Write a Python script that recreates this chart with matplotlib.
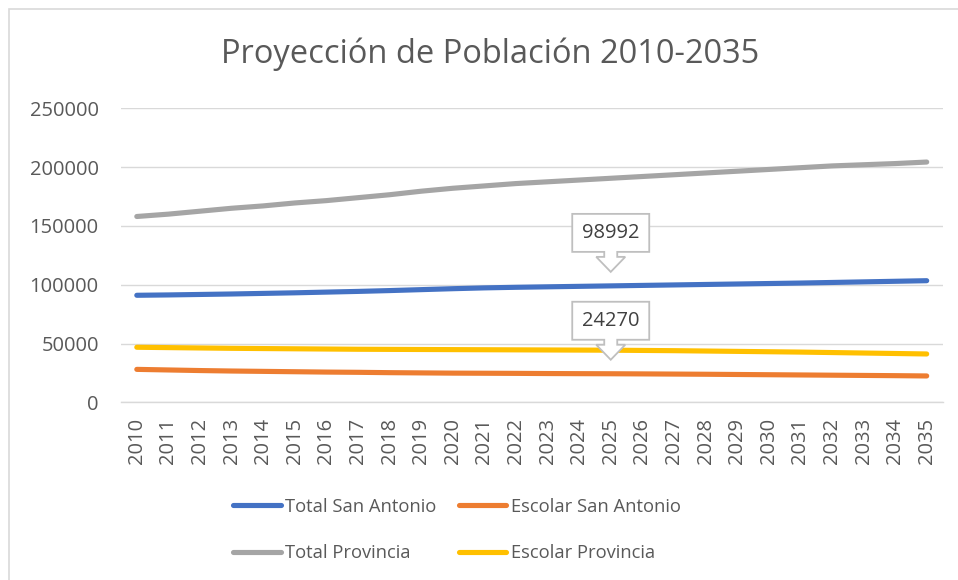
import numpy as np
import matplotlib.pyplot as plt
from matplotlib import transforms
from matplotlib.patches import Polygon, Rectangle

plt.rcParams['font.family'] = ['Open Sans', 'DejaVu Sans']

# Datos
anios = [str(a) for a in range(2010, 2036)]

total_san_antonio = [91000, 91300, 91700, 92100, 92600, 93100, 93700, 94300, 95000, 95800,
                     96600, 97300, 97800, 98200, 98600, 98992, 99400, 99800, 100200, 100600,
                     101000, 101400, 101900, 102400, 102900, 103400]
escolar_san_antonio = [28000, 27500, 27000, 26600, 26300, 26000, 25700, 25500, 25200, 25000,
                       24800, 24700, 24600, 24450, 24350, 24270, 24150, 24000, 23850, 23650,
                       23450, 23250, 23050, 22850, 22650, 22400]
total_provincia = [158000, 160000, 162500, 165000, 167000, 169500, 171500, 174000, 176500, 179500,
                   182000, 184000, 186000, 187500, 189000, 190500, 192000, 193500, 195000, 196500,
                   198000, 199500, 201000, 202000, 203000, 204300]
escolar_provincia = [46800, 46500, 46200, 45900, 45700, 45500, 45300, 45100, 45000, 44900,
                     44800, 44700, 44600, 44500, 44400, 44300, 44100, 43900, 43600, 43300,
                     43000, 42700, 42300, 41900, 41500, 41100]

series = [
    ("Total San Antonio", total_san_antonio, "#4472C4"),
    ("Total Provincia", total_provincia, "#A5A5A5"),
    ("Escolar San Antonio", escolar_san_antonio, "#ED7D31"),
    ("Escolar Provincia", escolar_provincia, "#FFC000"),
]
etiquetas = [("Total San Antonio", 15), ("Escolar San Antonio", 15)]

W, H = 958, 580
fig = plt.figure(figsize=(W / 100, H / 100), dpi=100)
ax = fig.add_axes([121 / W, 1 - 402.3 / H, 821.5 / W, 294 / H])

x = np.arange(len(anios))
lineas = {}
for nombre, vals, color in series:
    ax.plot(x, vals, color=color, lw=3.7, solid_capstyle='round',
            solid_joinstyle='round', label=nombre, zorder=3)
    lineas[nombre] = vals

ax.set_xlim(-0.5, len(anios) - 0.5)
ax.set_ylim(0, 250000)
ax.set_yticks(range(0, 250001, 50000))
ax.set_xticks(x)
ax.set_xticklabels(anios, rotation=90)
ax.grid(axis='y', color='#D9D9D9', lw=1.0, zorder=0)
ax.set_axisbelow(True)
for s in ['top', 'right', 'left']:
    ax.spines[s].set_visible(False)
ax.spines['bottom'].set_color('#D9D9D9')
ax.spines['bottom'].set_linewidth(1.0)
ax.tick_params(axis='both', length=0, labelsize=14.5, colors='#595959')
ax.tick_params(axis='y', pad=16)
ax.tick_params(axis='x', pad=11)

# Etiquetas tipo globo
forma = [(-38.5, 34), (-38.5, 72), (38.5, 72), (38.5, 34), (6.5, 34), (6.5, 29),
         (14.5, 29), (0, 14), (-14.5, 29), (-6.5, 29), (-6.5, 34)]
for nombre, i in etiquetas:
    val = lineas[nombre][i]
    tr = fig.dpi_scale_trans + transforms.ScaledTranslation(x[i], val, ax.transData)
    poly = Polygon([(px / 100, py / 100) for px, py in forma], closed=True,
                   facecolor='white', edgecolor='#BFBFBF', lw=1.3, transform=tr,
                   zorder=5, clip_on=False)
    ax.add_patch(poly)
    ax.text(0, 0.53, f"{val}", transform=tr, ha='center', va='center',
            fontsize=14.5, color='#404040', zorder=6)

# Titulo
fig.text(490 / W, 1 - 54 / H, "Proyección de Población 2010-2035", ha='center',
         va='center', fontsize=23.5, color='#595959')

# Leyenda
handles, labels = ax.get_legend_handles_labels()
fig.legend(handles, labels, ncol=2, loc='center', bbox_to_anchor=(457 / W, 1 - 530 / H),
           frameon=False, fontsize=13.2, labelcolor='#595959', handlelength=2.6,
           handletextpad=0.25, columnspacing=1.2, labelspacing=1.55)

# Borde del grafico
fig.patches.append(Rectangle((8.5 / W, -0.2), 1.2, 1 - 8.5 / H + 0.2, transform=fig.transFigure,
                             fill=False, edgecolor='#D9D9D9', lw=1.2))

fig.savefig('out.png', dpi=100)
